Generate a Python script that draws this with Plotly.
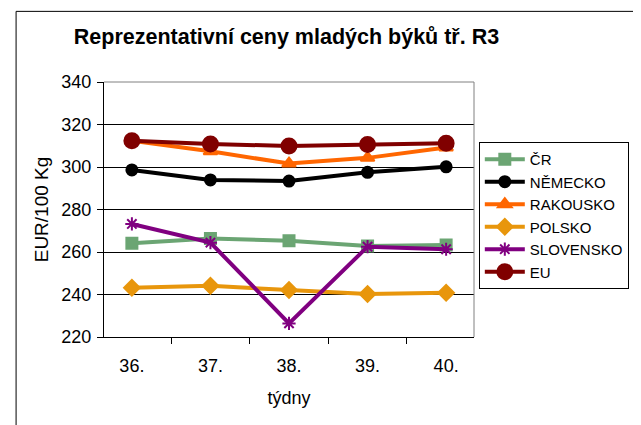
import plotly.graph_objects as go

# Weeks (categories)
weeks = ["36.", "37.", "38.", "39.", "40."]

# Prices in EUR/100 kg
cr = [264.1, 266.4, 265.3, 262.8, 263.3]
nemecko = [298.6, 293.9, 293.4, 297.5, 300.1]
rakousko = [312.4, 307.4, 301.6, 304.3, 309.2]
polsko = [243.2, 244.1, 242.1, 240.2, 240.8]
slovensko = [273.2, 264.4, 226.4, 262.5, 261.3]
eu = [312.4, 310.8, 309.9, 310.6, 311.2]

series = [
    ("ČR", cr, "#6BA573", "square", 11),
    ("NĚMECKO", nemecko, "#000000", "circle", 11),
    ("RAKOUSKO", rakousko, "#FF6600", "triangle-up", 12),
    ("POLSKO", polsko, "#E8960C", "diamond", 12),
    ("SLOVENSKO", slovensko, "#800080", "asterisk-open", 11),
    ("EU", eu, "#800000", "circle", 15),
]

FONT = "Liberation Sans, Arial, sans-serif"

# the page body has an 8px margin, so the figure is 8px smaller each way
W, H = 633, 417

fig = go.Figure()
for name, vals, color, symbol, size in series:
    fig.add_trace(go.Scatter(
        x=weeks, y=vals, name=name, mode="lines+markers",
        line=dict(color=color, width=4),
        marker=dict(symbol=symbol, size=size, color=color,
                    line=dict(color=color, width=2)),
    ))

# Gray top and right edges of the plot area
fig.add_shape(type="line", xref="paper", yref="paper", x0=0, x1=1, y0=1, y1=1,
              line=dict(color="#808080", width=1))
fig.add_shape(type="line", xref="paper", yref="paper", x0=1, x1=1, y0=0, y1=1,
              line=dict(color="#808080", width=1))
# Outer chart border, running off the right and bottom of the picture
fig.add_shape(type="rect", xref="paper", yref="paper", x0=-0.2376, x1=2,
              y0=-0.5, y1=1.277, line=dict(color="#000000", width=1))

fig.update_layout(
    width=W, height=H,
    margin=dict(l=96, r=154, t=74, b=88),
    paper_bgcolor="white", plot_bgcolor="white",
    font=dict(family=FONT, size=18, color="black"),
    title=dict(text="<b>Reprezentativní ceny mladých býků tř. R3</b>",
               x=278.5 / W, xanchor="center", y=1 - 28.5 / H, yanchor="middle",
               font=dict(size=21.5)),
    showlegend=True,
    legend=dict(x=1.013, y=0.765, xanchor="left", yanchor="top",
                bordercolor="black", borderwidth=1, font=dict(size=15),
                itemwidth=40),
)

fig.update_xaxes(
    type="category", tickson="boundaries", ticks="outside", ticklen=6,
    tickcolor="black", showline=True, linecolor="black", linewidth=1,
    showgrid=False, automargin=False, ticklabelstandoff=12,
    title=dict(text="týdny", font=dict(size=18), standoff=16),
)
fig.update_yaxes(
    range=[220, 340], dtick=20, ticks="outside", ticklen=6, tickcolor="black",
    ticklabelstandoff=2,
    showline=True, linecolor="black", linewidth=1,
    showgrid=True, gridcolor="black", gridwidth=1, zeroline=False,
    automargin=False,
    title=dict(text="EUR/100 Kg", font=dict(size=19), standoff=7),
)

fig.write_html("out.html")
